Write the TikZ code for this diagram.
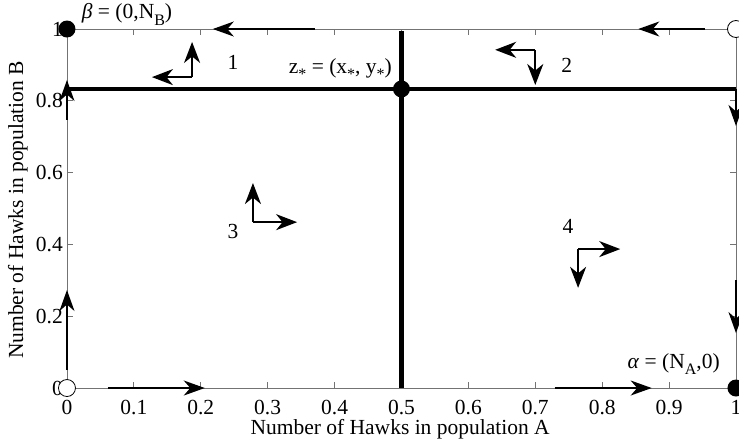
\documentclass[tikz,border=0pt]{standalone}
\usepackage{fontspec}
\setmainfont{Liberation Serif}
\usepackage{tikz}
\usetikzlibrary{arrows.meta}

\newcommand{\lowidx}[1]{\raisebox{-0.3em}{\fontsize{16}{16}\selectfont #1}}

\begin{document}
\begin{tikzpicture}[
        x=669pt, y=359pt,
        font=\fontsize{21.5}{25}\selectfont,
        axisline/.style={draw=black!55, line width=0.8pt},
        nullcline/.style={draw=black, line width=4.2pt},
        flow/.style={-{Stealth[length=21pt, width=15pt, inset=6.5pt]}, line width=1.6pt},
        dirarr/.style={-{Stealth[length=21pt, width=16pt, inset=6.5pt]}, line width=2pt},
        stable/.style={circle, fill=black, inner sep=0pt, minimum size=17pt},
        unstable/.style={circle, draw=black, fill=white, line width=0.8pt, inner sep=0pt, minimum size=17pt},
        ticklabel/.style={inner sep=0pt}
    ]
        \useasboundingbox (-0.1001,-0.1616) rectangle (1.0045,1.0808);

        % axes box and ticks
        \draw[axisline] (0,0) rectangle (1,1);
        \foreach \t in {0.1,0.2,...,0.9} {
            \draw[axisline] (\t,0) -- (\t,0.0167);
            \draw[axisline] (\t,1) -- (\t,0.9833);
        }
        \foreach \t in {0.2,0.4,0.6,0.8} {
            \draw[axisline] (0,\t) -- (0.009,\t);
            \draw[axisline] (1,\t) -- (0.991,\t);
        }
        \foreach \t/\l in {0/0,0.1/0.1,0.2/0.2,0.3/0.3,0.4/0.4,0.5/0.5,0.6/0.6,0.7/0.7,0.8/0.8,0.9/0.9,1/1}
            \node[ticklabel] (xt\l) at (\t,-0.053) {\l};
        \foreach \t/\l in {0/0,0.2/0.2,0.4/0.4,0.6/0.6,0.8/0.8,1/1}
            \node[ticklabel, anchor=east] (yt\l) at (-0.006,\t) {\l};

        \node[inner sep=0pt] (xlabel) at (0.498,-0.116) {Number of Hawks in population A};
        \node[rotate=90, inner sep=0pt] (ylabel) at (-0.0733,0.496) {Number of Hawks in population B};

        % nullclines through the interior equilibrium
        \coordinate (hl) at (0,0.833);
        \coordinate (hr) at (1,0.833);
        \coordinate (vb) at (0.5,0);
        \coordinate (vt) at (0.5,0.995);
        \draw[nullcline] (hl) -- (hr);
        \draw[nullcline] (vb) -- (vt);

        % flow along the borders
        \coordinate (b1s) at (0.061,0);    \coordinate (b1e) at (0.206,0);
        \coordinate (b2s) at (0.729,0);    \coordinate (b2e) at (0.874,0);
        \coordinate (t1s) at (0.954,1);    \coordinate (t1e) at (0.854,1);
        \coordinate (t2s) at (0.37,1);     \coordinate (t2e) at (0.218,1);
        \coordinate (l1s) at (0,0.05);     \coordinate (l1e) at (0,0.273);
        \coordinate (l2s) at (0,0.747);    \coordinate (l2e) at (0,0.858);
        \coordinate (r1s) at (1,0.833);    \coordinate (r1e) at (1,0.73);
        \coordinate (r2s) at (1,0.30);     \coordinate (r2e) at (1,0.153);
        \draw[flow] (b1s) -- (b1e);
        \draw[flow] (b2s) -- (b2e);
        \draw[flow] (t1s) -- (t1e);
        \draw[flow] (t2s) -- (t2e);
        \draw[flow] (l1s) -- (l1e);
        \draw[flow] (l2s) -- (l2e);
        \draw[flow] (r1s) -- (r1e);
        \draw[flow] (r2s) -- (r2e);

        % direction of motion in each region
        \coordinate (c1) at (0.187,0.866);
        \coordinate (c1u) at (0.187,0.964);
        \coordinate (c1l) at (0.127,0.866);
        \draw[dirarr] (c1) -- (c1u);
        \draw[dirarr] (c1) -- (c1l);
        \coordinate (c2) at (0.700,0.942);
        \coordinate (c2l) at (0.640,0.942);
        \coordinate (c2d) at (0.700,0.844);
        \draw[dirarr] (c2) -- (c2l);
        \draw[dirarr] (c2) -- (c2d);
        \coordinate (c3) at (0.278,0.462);
        \coordinate (c3u) at (0.278,0.571);
        \coordinate (c3r) at (0.344,0.462);
        \draw[dirarr] (c3) -- (c3u);
        \draw[dirarr] (c3) -- (c3r);
        \coordinate (c4) at (0.764,0.387);
        \coordinate (c4r) at (0.827,0.387);
        \coordinate (c4d) at (0.764,0.279);
        \draw[dirarr] (c4) -- (c4r);
        \draw[dirarr] (c4) -- (c4d);

        \node (reg1) at (0.248,0.908) {1};
        \node (reg2) at (0.747,0.900) {2};
        \node (reg3) at (0.248,0.435) {3};
        \node (reg4) at (0.749,0.451) {4};

        % equilibria
        \node[stable] (beta) at (0,1) {};
        \node[unstable] (corner11) at (1,1) {};
        \node[unstable] (origin) at (0,0) {};
        \node[stable] (alpha) at (1,0) {};
        \node[stable] (zstar) at (0.5,0.833) {};

        \node[anchor=base west, inner sep=0pt] (betalab) at (0.022,1.028) {\textit{β} = (0,N\lowidx{B})};
        \node[anchor=base east, inner sep=0pt] (zlab) at (0.486,0.877) {z\lowidx{*} = (x\lowidx{*}, y\lowidx{*})};
        \node[anchor=base east, inner sep=0pt] (alphalab) at (0.976,0.0557) {\textit{α} = (N\lowidx{A},0)};
    \end{tikzpicture}
\end{document}
